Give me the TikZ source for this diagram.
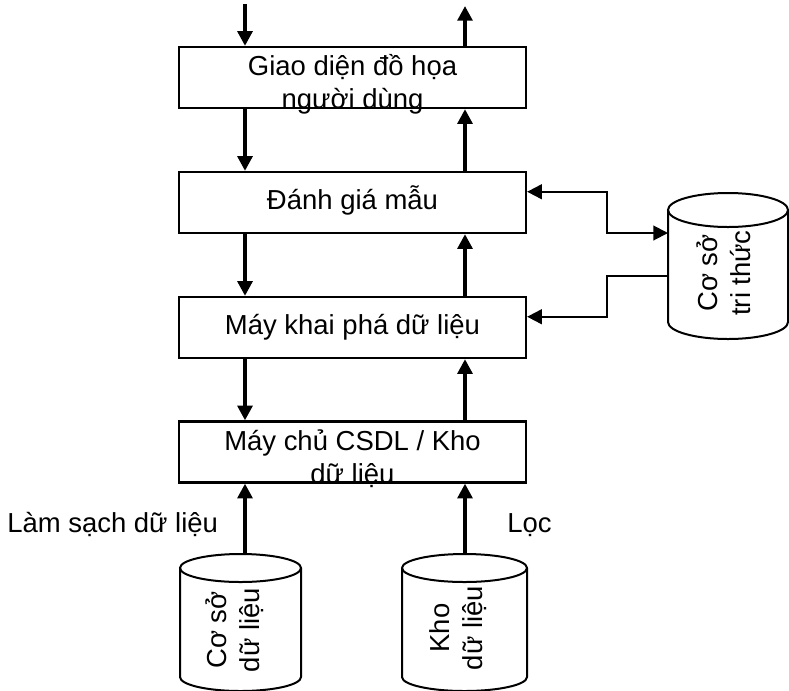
\documentclass[tikz,border=0pt]{standalone}
\usepackage{fontspec}
\setmainfont{Liberation Sans}
\usetikzlibrary{arrows.meta,calc}

\tikzset{
    >={Triangle[length=11pt,width=11pt]},
    box/.style={draw, line width=1.7pt, minimum width=260.25pt, minimum height=45.75pt,
        inner sep=0pt, text height=16pt, text depth=5pt},
    flow/.style={line width=3pt, ->},
    link/.style={line width=1.5pt},
    store/.style={line width=1.5pt},
    storetext/.style={rotate=90, align=center, inner sep=0pt},
}

\begin{document}
\begin{tikzpicture}[x=0.75pt, y=-0.75pt, font=\fontsize{20.6}{24.75}\selectfont]
        \useasboundingbox (0,0) rectangle (789,690);

        % 四个层次
        \node[box] (gui) at (352.5,77.5) {};
        \node[anchor=base, align=center, inner sep=0pt] (guitext) at (352.5,108) {Giao diện đồ họa\\người dùng};
        \node[box] (eval) at (352.5,202.5) {Đánh giá mẫu};
        \node[box] (miner) at (352.5,327.5) {Máy khai phá dữ liệu};
        \node[box] (server) at (352.5,452) {};
        \node[anchor=base, align=center, inner sep=0pt] (servertext) at (352.5,483) {Máy chủ CSDL / Kho\\dữ liệu};

        % 圆柱: 数据库, 数据仓库, 知识库
        \draw[store] (180,568) -- (180,677) arc[start angle=180, end angle=0, x radius=60.5, y radius=14] -- (301,568);
        \draw[store] (240.5,568) ellipse[x radius=60.5, y radius=14];
        \node[storetext] (db) at (235,630) {Cơ sở\\dữ liệu};
        \coordinate (dbtop) at (240.5,554);

        \draw[store] (402,568) -- (402,677) arc[start angle=180, end angle=0, x radius=62.5, y radius=14] -- (527,568);
        \draw[store] (464.5,568) ellipse[x radius=62.5, y radius=14];
        \node[storetext] (dw) at (458,628) {Kho\\dữ liệu};
        \coordinate (dwtop) at (464.5,554);

        \draw[store] (668,210) -- (668,322) arc[start angle=180, end angle=0, x radius=60, y radius=17] -- (788,210);
        \draw[store] (728,210) ellipse[x radius=60, y radius=17];
        \node[storetext] (kb) at (724,273) {Cơ sở\\tri thức};
        \coordinate (kbA) at (668,233);
        \coordinate (kbB) at (668,276);

        % 竖直的箭头
        \coordinate (userin) at (245,4);
        \coordinate (userout) at (465,6);
        \draw[flow] (userin) -- (gui.north -| userin);
        \draw[flow] (gui.north -| userout) -- (userout);
        \draw[flow] (gui.south -| userin) -- (eval.north -| userin);
        \draw[flow] (eval.north -| userout) -- (gui.south -| userout);
        \draw[flow] (eval.south -| userin) -- (miner.north -| userin);
        \draw[flow] (miner.north -| userout) -- (eval.south -| userout);
        \draw[flow] (miner.south -| userin) -- (server.north -| userin);
        \draw[flow] (server.north -| userout) -- (miner.south -| userout);
        \draw[flow] (dbtop -| userin) -- (server.south -| userin);
        \draw[flow] (dwtop -| userout) -- (server.south -| userout);

        % 知识库的连线
        \coordinate (mid) at (607,0);
        \draw[link, <->] ($(eval.north east)!0.33!(eval.south east)$) -| (mid |- kbA) -- (kbA);
        \draw[link, ->] (kbB) -| (mid |- kbB) |- ($(miner.north east)!0.33!(miner.south east)$);

        % 标注
        \node[anchor=base west, inner sep=0pt] (cleanlbl) at (7,532) {Làm sạch dữ liệu};
        \node[anchor=base west, inner sep=0pt] (filterlbl) at (507,532) {Lọc};
    \end{tikzpicture}
\end{document}
